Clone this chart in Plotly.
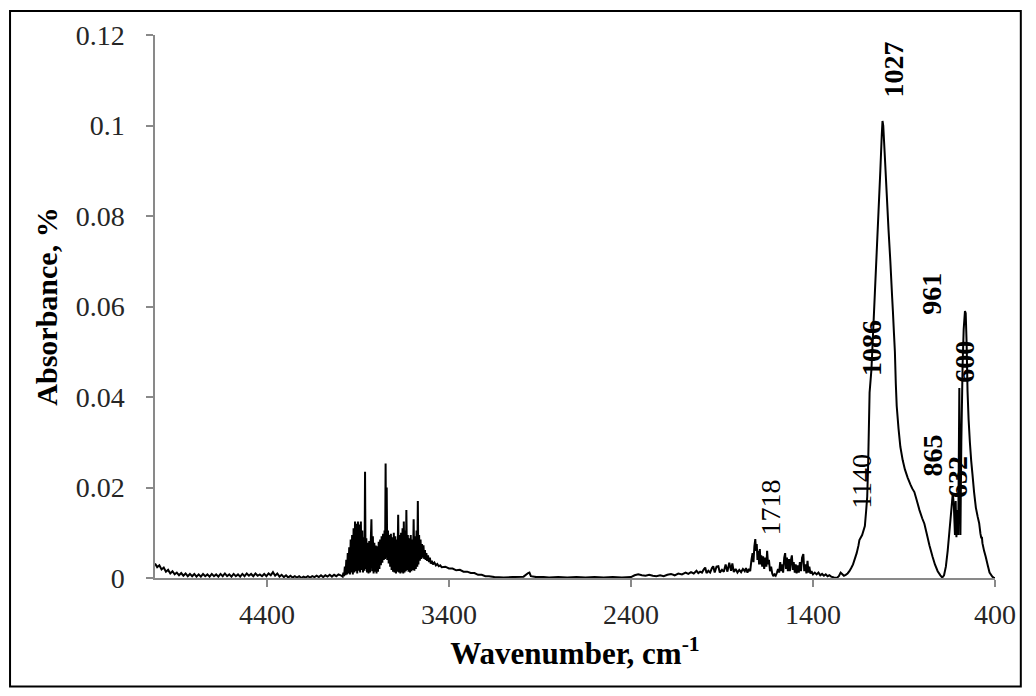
import plotly.graph_objects as go

# ---------------- data ----------------
# baseline noise 5015-3995 cm-1 : (wavenumber, absorbance)
seg_left = [
    (5015, .0032), (5003, .0024), (4991, .0028), (4979, .0019), (4967, .0023), (4955, .0014),
    (4943, .0018), (4931, .0010), (4919, .0015), (4907, .0008), (4895, .0012), (4883, .0006),
    (4871, .0011), (4859, .0005), (4847, .0010), (4835, .0004), (4823, .0009), (4811, .0004),
    (4799, .0009), (4787, .0003), (4775, .0008), (4763, .0003), (4751, .0009), (4739, .0004),
    (4727, .0008), (4715, .0003), (4703, .0009), (4691, .0004), (4679, .0008), (4667, .0003),
    (4655, .0009), (4643, .0004), (4631, .0010), (4619, .0004), (4607, .0008), (4595, .0003),
    (4583, .0009), (4571, .0004), (4559, .0008), (4547, .0003), (4535, .0009), (4523, .0004),
    (4511, .0010), (4499, .0005), (4487, .0009), (4475, .0004), (4463, .0010), (4451, .0005),
    (4439, .0008), (4427, .0004), (4415, .0009), (4403, .0004), (4391, .0010), (4379, .0006),
    (4367, .0013), (4355, .0005), (4343, .0010), (4331, .0003), (4319, .0007), (4307, .0002),
    (4295, .0006), (4283, .0001), (4271, .0005), (4259, .0001), (4247, .0004), (4235, .0001),
    (4223, .0004), (4211, .0000), (4199, .0003), (4187, .0001), (4175, .0004), (4163, .0001),
    (4151, .0004), (4139, .0002), (4127, .0005), (4115, .0002), (4103, .0006), (4091, .0002),
    (4079, .0006), (4067, .0003), (4055, .0007), (4043, .0003), (4031, .0007), (4019, .0004),
    (4007, .0008), (3995, .0006),
]

# O-H / water-vapour region 3984-2920 cm-1
seg_oh = [
    (3984, .0003), (3980, .0012), (3976, .0004), (3972, .0025), (3968, .0006), (3964, .0040),
    (3960, .0008), (3956, .0055), (3952, .0010), (3948, .0068), (3944, .0008), (3940, .0085),
    (3936, .0012), (3932, .0095), (3928, .0008), (3924, .0110), (3920, .0012), (3916, .0125),
    (3912, .0015), (3908, .0120), (3904, .0010), (3900, .0125), (3896, .0016), (3892, .0118),
    (3888, .0012), (3884, .0125), (3880, .0018), (3876, .0105), (3872, .0012), (3868, .0090),
    (3864, .0016), (3861, .0235), (3858, .0020), (3854, .0088), (3850, .0012), (3846, .0078),
    (3842, .0010), (3838, .0082), (3834, .0012), (3830, .0075), (3826, .0130), (3822, .0015),
    (3818, .0092), (3814, .0010), (3810, .0078), (3806, .0014), (3802, .0072), (3798, .0010),
    (3794, .0070), (3790, .0014), (3786, .0080), (3782, .0020), (3778, .0085), (3774, .0028),
    (3770, .0092), (3766, .0034), (3762, .0098), (3758, .0040), (3754, .0105), (3751, .0042),
    (3748, .0253), (3745, .0045), (3742, .0200), (3739, .0040), (3735, .0105), (3731, .0032),
    (3727, .0095), (3723, .0025), (3719, .0098), (3715, .0018), (3711, .0090), (3707, .0014),
    (3703, .0100), (3699, .0012), (3695, .0092), (3691, .0010), (3687, .0085), (3683, .0014),
    (3679, .0140), (3675, .0012), (3671, .0095), (3667, .0010), (3663, .0100), (3659, .0012),
    (3655, .0110), (3651, .0010), (3648, .0125), (3644, .0012), (3640, .0105), (3637, .0015),
    (3634, .0150), (3630, .0018), (3626, .0095), (3622, .0014), (3618, .0088), (3614, .0012),
    (3610, .0095), (3606, .0015), (3602, .0085), (3598, .0018), (3594, .0130), (3590, .0016),
    (3586, .0092), (3582, .0020), (3578, .0105), (3574, .0025), (3571, .0170), (3568, .0030),
    (3564, .0095), (3560, .0038), (3556, .0085), (3552, .0042), (3548, .0075), (3544, .0045),
    (3540, .0072), (3536, .0042), (3532, .0062), (3528, .0040), (3524, .0055), (3520, .0038),
    (3515, .0050), (3510, .0035), (3505, .0045), (3500, .0032), (3494, .0038), (3488, .0030),
    (3480, .0034), (3472, .0028), (3464, .0031), (3456, .0026), (3448, .0028), (3440, .0024),
    (3420, .0025), (3400, .0021), (3380, .0021), (3360, .0017), (3340, .0018), (3320, .0014),
    (3300, .0014), (3280, .0011), (3260, .0011), (3240, .0007), (3220, .0007), (3200, .0004),
    (3180, .0004), (3150, .0002), (3100, .0001), (3050, .0002), (2990, .0003), (2965, .0011),
    (2958, .0012), (2950, .0004), (2920, .0002),
]

# flat region and weak bands 2880-1760 cm-1
seg_mid = [
    (2880, .0002), (2850, .0001), (2800, .0002), (2750, .0001), (2700, .0002), (2650, .0001),
    (2600, .0002), (2550, .0001), (2500, .0002), (2450, .0001), (2400, .0002), (2380, .0006),
    (2360, .0008), (2340, .0006), (2320, .0005), (2300, .0007), (2280, .0005), (2260, .0004),
    (2240, .0006), (2220, .0004), (2200, .0007), (2180, .0009), (2160, .0006), (2140, .0010),
    (2120, .0008), (2100, .0012), (2085, .0009), (2070, .0013), (2055, .0010), (2040, .0016),
    (2030, .0011), (2020, .0014), (2010, .0012), (2000, .0019), (1992, .0023), (1985, .0011),
    (1975, .0016), (1965, .0012), (1955, .0022), (1948, .0026), (1940, .0012), (1930, .0025),
    (1920, .0026), (1912, .0012), (1900, .0018), (1890, .0014), (1880, .0030), (1870, .0014),
    (1860, .0034), (1850, .0016), (1843, .0032), (1835, .0013), (1825, .0020), (1815, .0012),
    (1805, .0018), (1795, .0013), (1785, .0020), (1775, .0015), (1768, .0022), (1760, .0012),
]

# C=O band at 1718 and 1700-1310 cm-1 noise
seg_co = [
    (1752, .0020), (1745, .0015), (1738, .0040), (1732, .0055), (1727, .0035), (1722, .0070),
    (1717, .0086), (1713, .0060), (1709, .0075), (1705, .0040), (1700, .0060), (1696, .0030),
    (1692, .0064), (1688, .0030), (1684, .0050), (1679, .0025), (1674, .0048), (1668, .0020),
    (1662, .0045), (1656, .0025), (1652, .0060), (1647, .0030), (1642, .0040), (1636, .0015),
    (1630, .0025), (1624, .0010), (1618, .0004), (1612, .0008), (1605, .0005), (1598, .0012),
    (1592, .0020), (1586, .0012), (1580, .0035), (1575, .0015), (1570, .0030), (1564, .0012),
    (1558, .0045), (1553, .0055), (1548, .0020), (1543, .0045), (1538, .0015), (1532, .0042),
    (1527, .0015), (1522, .0038), (1516, .0050), (1511, .0018), (1506, .0035), (1500, .0012),
    (1495, .0030), (1490, .0010), (1484, .0028), (1478, .0012), (1472, .0035), (1466, .0015),
    (1460, .0045), (1453, .0053), (1448, .0015), (1442, .0030), (1436, .0010), (1430, .0038),
    (1425, .0012), (1420, .0025), (1414, .0010), (1408, .0015), (1400, .0008), (1390, .0012),
    (1380, .0008), (1370, .0012), (1360, .0006), (1350, .0009), (1340, .0005), (1330, .0008),
    (1320, .0004), (1310, .0006),
]

# phosphate bands 1300-400 cm-1
seg_po = [
    (1300, .0003), (1285, .0001), (1270, .0000), (1258, .0004), (1248, .0012), (1240, .0009),
    (1230, .0005), (1220, .0007), (1210, .0010), (1200, .0015), (1190, .0022), (1180, .0030),
    (1172, .0040), (1160, .0055), (1150, .0072), (1145, .0084), (1130, .0095), (1115, .0115),
    (1108, .0148), (1102, .0180), (1097, .0250), (1093, .0330), (1089, .0410), (1083, .0440),
    (1079, .0460), (1070, .0540), (1060, .0630), (1050, .0720), (1040, .0810), (1030, .0900),
    (1022, .0980), (1018, .1010), (1014, .1000), (1005, .0930), (995, .0850), (985, .0770),
    (975, .0700), (965, .0620), (961, .0590), (955, .0540), (950, .0500), (945, .0430),
    (940, .0380), (930, .0330), (920, .0290), (907, .0260), (895, .0240), (880, .0222),
    (865, .0207), (855, .0198), (843, .0190), (830, .0172), (815, .0150), (800, .0132),
    (788, .0120), (775, .0098), (760, .0072), (743, .0047), (730, .0030), (715, .0015),
    (700, .0006), (690, .0001), (680, .0006), (670, .0025), (660, .0060), (650, .0105),
    (640, .0150), (632, .0187), (626, .0160), (620, .0095), (616, .0170), (612, .0090),
    (606, .0150), (602, .0095), (596, .0420), (590, .0095), (585, .0300), (578, .0470),
    (572, .0550), (565, .0590), (561, .0585), (556, .0520), (551, .0414), (545, .0350),
    (538, .0300), (531, .0260), (524, .0230), (515, .0190), (505, .0155), (495, .0135),
    (487, .0121), (480, .0098), (475, .0088), (472, .0091), (469, .0077), (460, .0060),
    (451, .0047), (440, .0028), (430, .0012), (415, .0003), (405, .0000), (400, .0000),
]

peak_labels = ["1027", "961", "561", "1086", "600", "865", "632", "1140", "1718"]
label_x = [958, 747, 396, 1082, 565, 745, 606, 1138, 1635]
label_y = [0.1125, 0.0628, 0.0691, 0.0508, 0.0478, 0.0271, 0.0222, 0.0214, 0.0156]
label_bold = [True, True, True, True, True, True, True, False, False]

x_ticks = [4400, 3400, 2400, 1400, 400]
y_ticks = [0, 0.02, 0.04, 0.06, 0.08, 0.1, 0.12]
y_tick_text = ["0", "0.02", "0.04", "0.06", "0.08", "0.1", "0.12"]

spectrum = seg_left + seg_oh + seg_mid + seg_co + seg_po
wn = [p[0] for p in spectrum]
ab = [p[1] for p in spectrum]

FONT = "Liberation Serif"
AXIS_GREY = "#898989"
TICK_TXT = "#262626"

# figure is 1020x680; the page adds an 8 px body margin on each side
W, H = 1020, 680
ML, MR, MT, MB = 147, 27, 25, 110
PW, PH = W - ML - MR, H - MT - MB

fig = go.Figure()
fig.add_trace(go.Scatter(x=wn, y=ab, mode="lines",
                         line=dict(color="black", width=2, simplify=False),
                         showlegend=False, hoverinfo="x+y"))

for t, x, y, b in zip(peak_labels, label_x, label_y, label_bold):
    fig.add_annotation(x=x, y=y, xref="x", yref="y", text=f"<b>{t}</b>" if b else t,
                       textangle=-90, showarrow=False, xanchor="center", yanchor="middle",
                       font=dict(family=FONT, size=28, color="black"))

fig.update_layout(
    width=W, height=H,
    margin=dict(l=ML, r=MR, t=MT, b=MB),
    paper_bgcolor="white", plot_bgcolor="white",
    font=dict(family=FONT, color=TICK_TXT),
)
fig.update_xaxes(
    range=[5015, 400], tickmode="array", tickvals=x_ticks,
    ticktext=[str(v) for v in x_ticks],
    showline=True, linecolor=AXIS_GREY, linewidth=1.5,
    ticks="outside", ticklen=7, tickcolor=AXIS_GREY, tickwidth=1.5,
    showgrid=False, zeroline=False,
    tickfont=dict(family=FONT, size=28, color=TICK_TXT),
    ticklabelstandoff=4,
    title=dict(text="<b>Wavenumber, cm<sup>-1</sup></b>",
               font=dict(family=FONT, size=31, color="black"), standoff=13),
)
fig.update_yaxes(
    range=[0, 0.12], tickmode="array", tickvals=y_ticks, ticktext=y_tick_text,
    showline=True, linecolor=AXIS_GREY, linewidth=1.5,
    ticks="outside", ticklen=7, tickcolor=AXIS_GREY, tickwidth=1.5,
    showgrid=False, zeroline=False,
    tickfont=dict(family=FONT, size=28, color=TICK_TXT),
    ticklabelstandoff=16,
    title=dict(text="<b>Absorbance, %</b>",
               font=dict(family=FONT, size=30, color="black"), standoff=9),
)

# outer border of the picture (at the figure edge)
fig.add_shape(type="rect", xref="paper", yref="paper",
              x0=(1 - ML) / PW, x1=(W - 1 - ML) / PW,
              y0=(PH + MT - (H - 1)) / PH, y1=(PH + MT - 1) / PH,
              line=dict(color="black", width=2), fillcolor="rgba(0,0,0,0)", layer="below")

fig.write_html("out.html")
